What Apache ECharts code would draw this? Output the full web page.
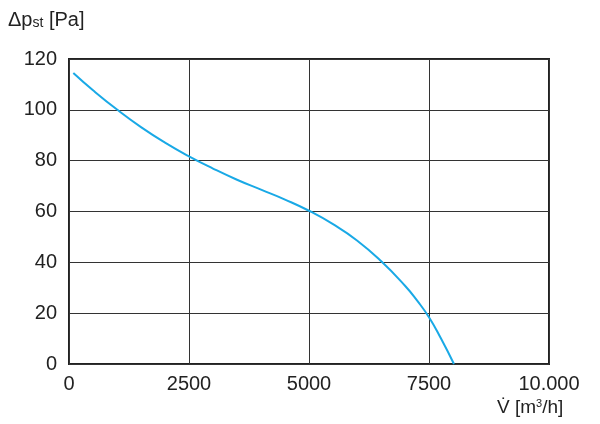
<!DOCTYPE html>
<html>
<head>
<meta charset="utf-8">
<script src="https://cdn.jsdelivr.net/npm/echarts@6/dist/echarts.min.js"></script>
<style>
  html, body { margin: 0; padding: 0; background: #fff; }
  #chart { width: 600px; height: 424px; }
</style>
</head>
<body>
<div id="chart"></div>
<script>
// fan curve: static pressure vs. air flow
const flowValues = [90, 500, 1000, 1500, 2000, 2500, 3000, 3500, 4000, 4500, 5000, 5500, 6000, 6500, 7000, 7250, 7500, 7750, 8020];
const pressureValues = [114.5, 107.7, 100.1, 93.2, 87.1, 81.7, 76.9, 72.5, 68.6, 64.7, 60.3, 55.0, 48.6, 40.5, 30.8, 25.0, 18.4, 10.0, 0];
const xTicks = [0, 2500, 5000, 7500, 10000];
const yTicks = [0, 20, 40, 60, 80, 100, 120];

const FONT = "'Liberation Sans', Arial, sans-serif";
const lineColor = '#333';

const chart = echarts.init(document.getElementById('chart'));

const points = flowValues.map((x, i) => [x, pressureValues[i]]);

chart.setOption({
    animation: false,
    backgroundColor: '#fff',
    grid: {
        left: 69, right: 51, top: 59, bottom: 60,
        show: true,
        borderColor: '#222',
        borderWidth: 2,
        backgroundColor: 'transparent'
    },
    xAxis: {
        type: 'value',
        min: xTicks[0],
        max: xTicks[xTicks.length - 1],
        interval: 2500,
        axisLine: { show: false },
        axisTick: { show: false },
        splitLine: { show: true, lineStyle: { color: lineColor, width: 1 } },
        axisLabel: {
            fontFamily: FONT, fontSize: 20, color: '#222', margin: 10,
            formatter: v => v === 10000 ? '10.000' : String(v)
        }
    },
    yAxis: {
        type: 'value',
        min: yTicks[0],
        max: yTicks[yTicks.length - 1],
        interval: 20,
        axisLine: { show: false },
        axisTick: { show: false },
        splitLine: { show: true, lineStyle: { color: lineColor, width: 1 } },
        axisLabel: { fontFamily: FONT, fontSize: 20, color: '#222', margin: 12 }
    },
    series: [{
        type: 'line',
        data: points,
        smooth: 0.5,
        showSymbol: false,
        lineStyle: { color: '#19a9e6', width: 2 }
    }],
    graphic: [
        {
            type: 'text', left: 8, top: 10,
            style: {
                text: '{a|Δp}{s|st}{a| [Pa]}',
                rich: {
                    a: { fontFamily: FONT, fontSize: 20, fill: '#222' },
                    s: { fontFamily: FONT, fontSize: 14, fill: '#222', padding: [6, 0, 0, 0] }
                }
            }
        },
        {
            type: 'text', left: 497, top: 398,
            style: {
                text: '{a|V̇ [m}{s|3}{a|/h]}',
                rich: {
                    a: { fontFamily: FONT, fontSize: 19, fill: '#222' },
                    s: { fontFamily: FONT, fontSize: 11, fill: '#222', padding: [0, 0, 8, 0] }
                }
            }
        }
    ]
});
</script>
</body>
</html>
